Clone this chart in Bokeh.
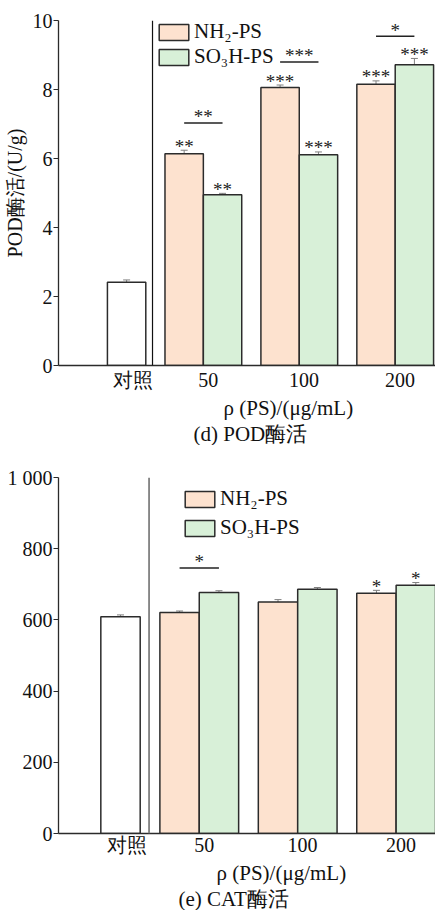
from bokeh.plotting import figure
from bokeh.models import (Range1d, FixedTicker, Span, Whisker, ColumnDataSource,
                          Legend, LegendItem, Title, TeeHead)
from bokeh.layouts import column
from bokeh.embed import file_html
from bokeh.resources import INLINE
from bokeh.core.properties import value

# ---------------- data ----------------
categories = ["对照", "50", "100", "200"]
series_names = ["NH₂-PS", "SO₃H-PS"]
x_title = "ρ (PS)/(μg/mL)"

pod_control = 2.41
pod_control_err = 0.07
pod_nh2 = [6.14, 8.06, 8.15]
pod_nh2_err = [0.10, 0.07, 0.10]
pod_so3h = [4.95, 6.11, 8.72]
pod_so3h_err = [0.04, 0.08, 0.18]
pod_nh2_sig = ["**", "***", "***"]
pod_so3h_sig = ["**", "***", "***"]
pod_pair_sig = ["**", "***", "*"]
pod_pair_level = [7.03, 8.80, 9.54]
pod_yticks = [0, 2, 4, 6, 8, 10]
pod_ylabel = "POD酶活/(U/g)"
pod_caption = "(d)  POD酶活"

cat_control = 609
cat_control_err = 5
cat_nh2 = [621, 650, 675]
cat_nh2_err = [4, 7, 8]
cat_so3h = [677, 686, 697]
cat_so3h_err = [5, 5, 8]
cat_nh2_sig = ["", "", "*"]
cat_so3h_sig = ["", "", "*"]
cat_pair_sig = ["*", "", ""]
cat_pair_level = [746, None, None]
cat_yticks = [0, 200, 400, 600, 800, 1000]
cat_ytick_labels = ["0", "200", "400", "600", "800", "1 000"]
cat_caption = "(e)  CAT酶活"

# ---------------- style ----------------
SERIF = "Liberation Serif"
NH2_COLOR = "#fde2cf"
SO3H_COLOR = "#d8f0d8"
EDGE = "#2b2b2b"
ERR = "#808080"
FS_TICK = "20px"
FS_TITLE = "21px"

CONTROL_X = 0.2
GROUP_X = [1, 2, 3]
BAR_W = 0.4


def make_panel(control, control_err, nh2, nh2_err, so3h, so3h_err,
               nh2_sig, so3h_sig, pair_sig, pair_level,
               yticks, ylabels, ymax, ylabel, caption, height,
               border_top, border_left, border_bottom, xr, sep_x, sep_color, sep_w,
               legend_loc, legend_spacing, xtitle_off, caption_off, standoffs,
               tick_standoff):
    p = figure(width=435, height=height, output_backend="svg",
               toolbar_location=None, x_range=Range1d(*xr),
               y_range=Range1d(0, ymax), min_border_top=border_top,
               min_border_left=border_left, min_border_right=0,
               min_border_bottom=border_bottom)
    p.outline_line_color = None
    p.grid.visible = False
    p.background_fill_color = None
    p.border_fill_color = None

    # control bar
    p.vbar(x=[CONTROL_X], top=[control], width=BAR_W, fill_color="white",
           line_color=EDGE, line_width=1.5)
    nx = [g - BAR_W / 2 for g in GROUP_X]
    sx = [g + BAR_W / 2 for g in GROUP_X]
    r1 = p.vbar(x=nx, top=nh2, width=BAR_W, fill_color=NH2_COLOR,
                line_color=EDGE, line_width=1.5)
    r2 = p.vbar(x=sx, top=so3h, width=BAR_W, fill_color=SO3H_COLOR,
                line_color=EDGE, line_width=1.5)

    # error bars
    ex = [CONTROL_X] + nx + sx
    ev = [control] + list(nh2) + list(so3h)
    ee = [control_err] + list(nh2_err) + list(so3h_err)
    esrc = ColumnDataSource(dict(x=ex, lo=[v - e for v, e in zip(ev, ee)],
                                 hi=[v + e for v, e in zip(ev, ee)]))
    w = Whisker(source=esrc, base="x", lower="lo", upper="hi",
                line_color=ERR, line_width=1,
                lower_head=TeeHead(size=7, line_color=ERR, line_width=1),
                upper_head=TeeHead(size=7, line_color=ERR, line_width=1))
    p.add_layout(w)

    # significance stars over bars
    tx, ty, tt = [], [], []
    for xs, vals, errs, sigs in ((nx, nh2, nh2_err, nh2_sig),
                                 (sx, so3h, so3h_err, so3h_sig)):
        for x, v, e, s in zip(xs, vals, errs, sigs):
            if s:
                tx.append(x); ty.append(v + e); tt.append(s)
    p.text(x=tx, y=ty, text=tt, text_align="center", text_baseline="alphabetic",
           y_offset=-4, text_font=value(SERIF), text_font_size="19px",
           text_color="#222222")

    # pair brackets
    bx0, bx1, by, bt, btx = [], [], [], [], []
    for a, b, s, lv in zip(nx, sx, pair_sig, pair_level):
        if s:
            bx0.append(a); bx1.append(b); by.append(lv); bt.append(s)
            btx.append((a + b) / 2)
    p.segment(x0=bx0, y0=by, x1=bx1, y1=by, line_color="#222222", line_width=1.5)
    p.text(x=btx, y=by, text=bt, text_align="center", text_baseline="alphabetic",
           y_offset=-6, text_font=value(SERIF), text_font_size="19px",
           text_color="#222222")

    # separator
    p.add_layout(Span(location=sep_x, dimension="height", line_color=sep_color,
                      line_width=sep_w))

    # axes
    p.xaxis.ticker = FixedTicker(ticks=[CONTROL_X + 0.07] + [g + 0.05 for g in GROUP_X])
    p.xaxis.major_label_overrides = {CONTROL_X + 0.07: categories[0],
                                     **{g + 0.05: c for g, c in zip(GROUP_X, categories[1:])}}
    p.xaxis.major_tick_out = 0
    p.xaxis.major_tick_in = 0
    p.xaxis.minor_tick_line_color = None
    p.xaxis.major_label_standoff = tick_standoff
    p.xaxis.axis_label_standoff = 0
    p.yaxis.ticker = FixedTicker(ticks=yticks)
    p.yaxis.major_label_overrides = {t: l for t, l in zip(yticks, ylabels)}
    p.yaxis.minor_tick_line_color = None
    p.yaxis.major_tick_in = 0
    p.yaxis.major_tick_out = 5
    p.yaxis.major_label_standoff = 1
    for ax in (p.xaxis[0], p.yaxis[0]):
        ax.axis_line_color = EDGE
        ax.axis_line_width = 1.3
        ax.major_tick_line_color = EDGE if ax is p.yaxis[0] else None
        ax.major_label_text_font = SERIF
        ax.major_label_text_font_size = FS_TICK
        ax.major_label_text_color = "#111111"
    if ylabel:
        p.yaxis.axis_label = ylabel
        p.yaxis.axis_label_text_font = SERIF
        p.yaxis.axis_label_text_font_size = "20px"
        p.yaxis.axis_label_text_font_style = "normal"
        p.yaxis.axis_label_text_color = "#111111"
        p.yaxis.axis_label_standoff = 4

    # x-axis title and caption as below-titles
    t1 = Title(text=x_title, align="left", offset=xtitle_off,
               text_font=SERIF, text_font_size=FS_TITLE, text_font_style="normal",
               text_color="#111111", standoff=standoffs[0])
    t2 = Title(text=caption, align="left", offset=caption_off,
               text_font=SERIF, text_font_size=FS_TITLE, text_font_style="normal",
               text_color="#111111", standoff=standoffs[1])
    p.add_layout(t1, "below")
    p.add_layout(t2, "below")

    legend = Legend(items=[LegendItem(label=series_names[0], renderers=[r1]),
                           LegendItem(label=series_names[1], renderers=[r2])],
                    location=legend_loc, padding=0, margin=0, spacing=legend_spacing,
                    glyph_width=37, glyph_height=20, label_standoff=2,
                    label_text_font=SERIF, label_text_font_size=FS_TITLE,
                    label_text_color="#111111",
                    border_line_color=None, background_fill_alpha=0)
    p.add_layout(legend)
    return p


p1 = make_panel(pod_control, pod_control_err, pod_nh2, pod_nh2_err, pod_so3h, pod_so3h_err,
                pod_nh2_sig, pod_so3h_sig, pod_pair_sig, pod_pair_level,
                pod_yticks, [str(t) for t in pod_yticks], 10, pod_ylabel, pod_caption,
                445, 20, 58, 77, (-0.51, 3.42), 0.47, "#111111", 1.2,
                (97, 296), 0, 165, 135, (0, 0), 3)
p2 = make_panel(cat_control, cat_control_err, cat_nh2, cat_nh2_err, cat_so3h, cat_so3h_err,
                cat_nh2_sig, cat_so3h_sig, cat_pair_sig, cat_pair_level,
                cat_yticks, cat_ytick_labels, 1000, None, cat_caption,
                465, 32, 53, 76, (-0.43, 3.4), 0.49, "#808080", 1.8,
                (123, 293), 4, 158, 120, (0, 0), 0)

layout = column(p1, p2, spacing=0)
open("out.html", "w").write(file_html(layout, INLINE))
